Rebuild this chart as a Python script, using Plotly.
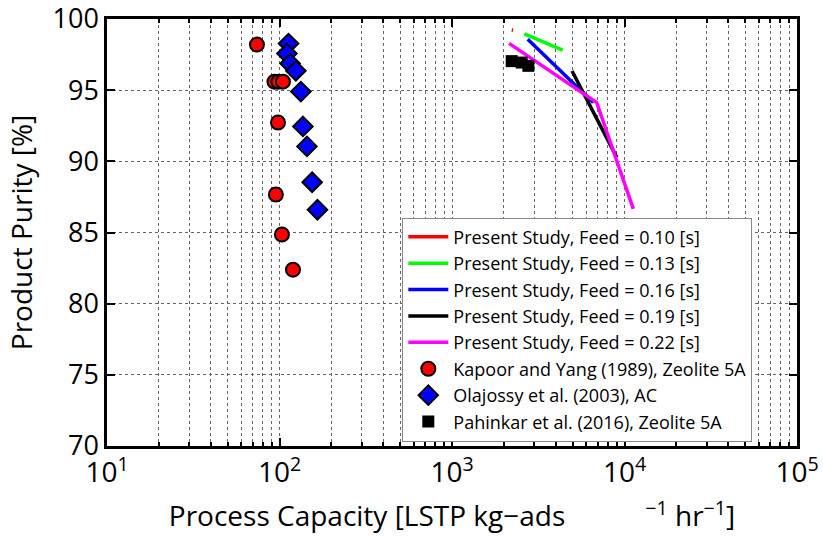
import plotly.graph_objects as go

# Present study: process capacity vs purity for each feed time
feed_labels = ["0.10", "0.13", "0.16", "0.19", "0.22"]
feed_colors = ["#ff0000", "#00ff00", "#0000ff", "#000000", "#ff00ff"]
cap_010 = [2220, 2260]
pur_010 = [99.23, 99.21]
cap_013 = [2625, 4385]
pur_013 = [98.96, 97.82]
cap_016 = [2748, 6592]
pur_016 = [98.57, 94.13]
cap_019 = [4966, 9020]
pur_019 = [96.35, 90.28]
cap_022 = [2143, 6902, 11250]
pur_022 = [98.29, 94.13, 86.66]

# Literature data
kapoor_cap = [74, 93.5, 98.6, 104.7, 98, 95.3, 103.3, 119.7]
kapoor_pur = [98.2, 95.6, 95.6, 95.6, 92.73, 87.67, 84.86, 82.39]
olaj_cap = [112.8, 110.4, 115.3, 124.4, 133, 136.7, 144.3, 154.6, 166]
olaj_pur = [98.27, 97.57, 96.87, 96.36, 94.9, 92.45, 91.05, 88.53, 86.6]
pah_cap = [2218, 2535, 2772]
pah_pur = [97.04, 96.94, 96.71]

x_tickvals = [10, 100, 1000, 10000, 100000]
x_ticktext = ["10<sup>1</sup>", "10<sup>2</sup>", "10<sup>3</sup>", "10<sup>4</sup>", "10<sup>5</sup>"]
y_tickvals = [70, 75, 80, 85, 90, 95, 100]

FONT = "Open Sans, Arial"
GAP = "\u00a0" * 11

fig = go.Figure()

series = [(cap_010, pur_010), (cap_013, pur_013), (cap_016, pur_016),
          (cap_019, pur_019), (cap_022, pur_022)]
for (cx, py), lab, col in zip(series, feed_labels, feed_colors):
    fig.add_trace(go.Scatter(
        x=cx, y=py, mode="lines",
        line=dict(color=col, width=3.5),
        name=f"Present Study, Feed = {lab} [s]",
    ))

fig.add_trace(go.Scatter(
    x=kapoor_cap, y=kapoor_pur, mode="markers",
    marker=dict(symbol="circle", size=14, color="#ff0000",
                line=dict(color="black", width=2)),
    name="Kapoor and Yang (1989), Zeolite 5A",
))
fig.add_trace(go.Scatter(
    x=olaj_cap, y=olaj_pur, mode="markers",
    marker=dict(symbol="diamond", size=15, color="#0000ff",
                line=dict(color="black", width=2)),
    name="Olajossy et al. (2003), AC",
))
fig.add_trace(go.Scatter(
    x=pah_cap, y=pah_pur, mode="markers",
    marker=dict(symbol="square", size=12, color="black",
                line=dict(color="black", width=0)),
    name="Pahinkar et al. (2016), Zeolite 5A",
))

grid_style = dict(showgrid=True, gridcolor="#666666", griddash="dot", gridwidth=1)

fig.update_xaxes(
    type="log", range=[1, 5], automargin=False,
    tickvals=x_tickvals, ticktext=x_ticktext,
    ticks="inside", ticklen=8, tickwidth=1.5, tickcolor="black",
    showline=True, linecolor="black", linewidth=2.5, mirror="ticks",
    tickfont=dict(family=FONT, size=28, color="black"),
    ticklabeloverflow="allow",
    title=dict(text="Process Capacity [LSTP kg\u2212ads" + GAP +
                    "<sup>\u22121</sup> hr<sup>\u22121</sup>]",
               font=dict(family=FONT, size=28, color="black"), standoff=18),
    minor=dict(dtick="D1", ticks="inside", ticklen=4, tickcolor="black",
               showgrid=True, gridcolor="#666666", griddash="dot", gridwidth=1),
    zeroline=False,
    **grid_style,
)
fig.update_yaxes(
    range=[70, 100], tickvals=y_tickvals, automargin=False,
    ticks="inside", ticklen=8, tickwidth=1.5, tickcolor="black",
    showline=True, linecolor="black", linewidth=2.5, mirror="ticks",
    tickfont=dict(family=FONT, size=27, color="black"),
    ticklabeloverflow="allow",
    title=dict(text="Product Purity [%]",
               font=dict(family=FONT, size=28, color="black"), standoff=12),
    zeroline=False,
    **grid_style,
)

fig.update_layout(
    width=823, height=542,
    margin=dict(l=107, r=26, t=19, b=96),
    plot_bgcolor="white", paper_bgcolor="white",
    font=dict(family=FONT, color="black"),
    showlegend=True,
    legend=dict(
        x=0.428, y=0.535, xanchor="left", yanchor="top",
        bgcolor="white", bordercolor="#888888", borderwidth=1,
        font=dict(family=FONT, size=18, color="black"),
        tracegroupgap=0, itemwidth=40,
        entrywidth=345, entrywidthmode="pixels",
    ),
)

fig.write_html("out.html")
